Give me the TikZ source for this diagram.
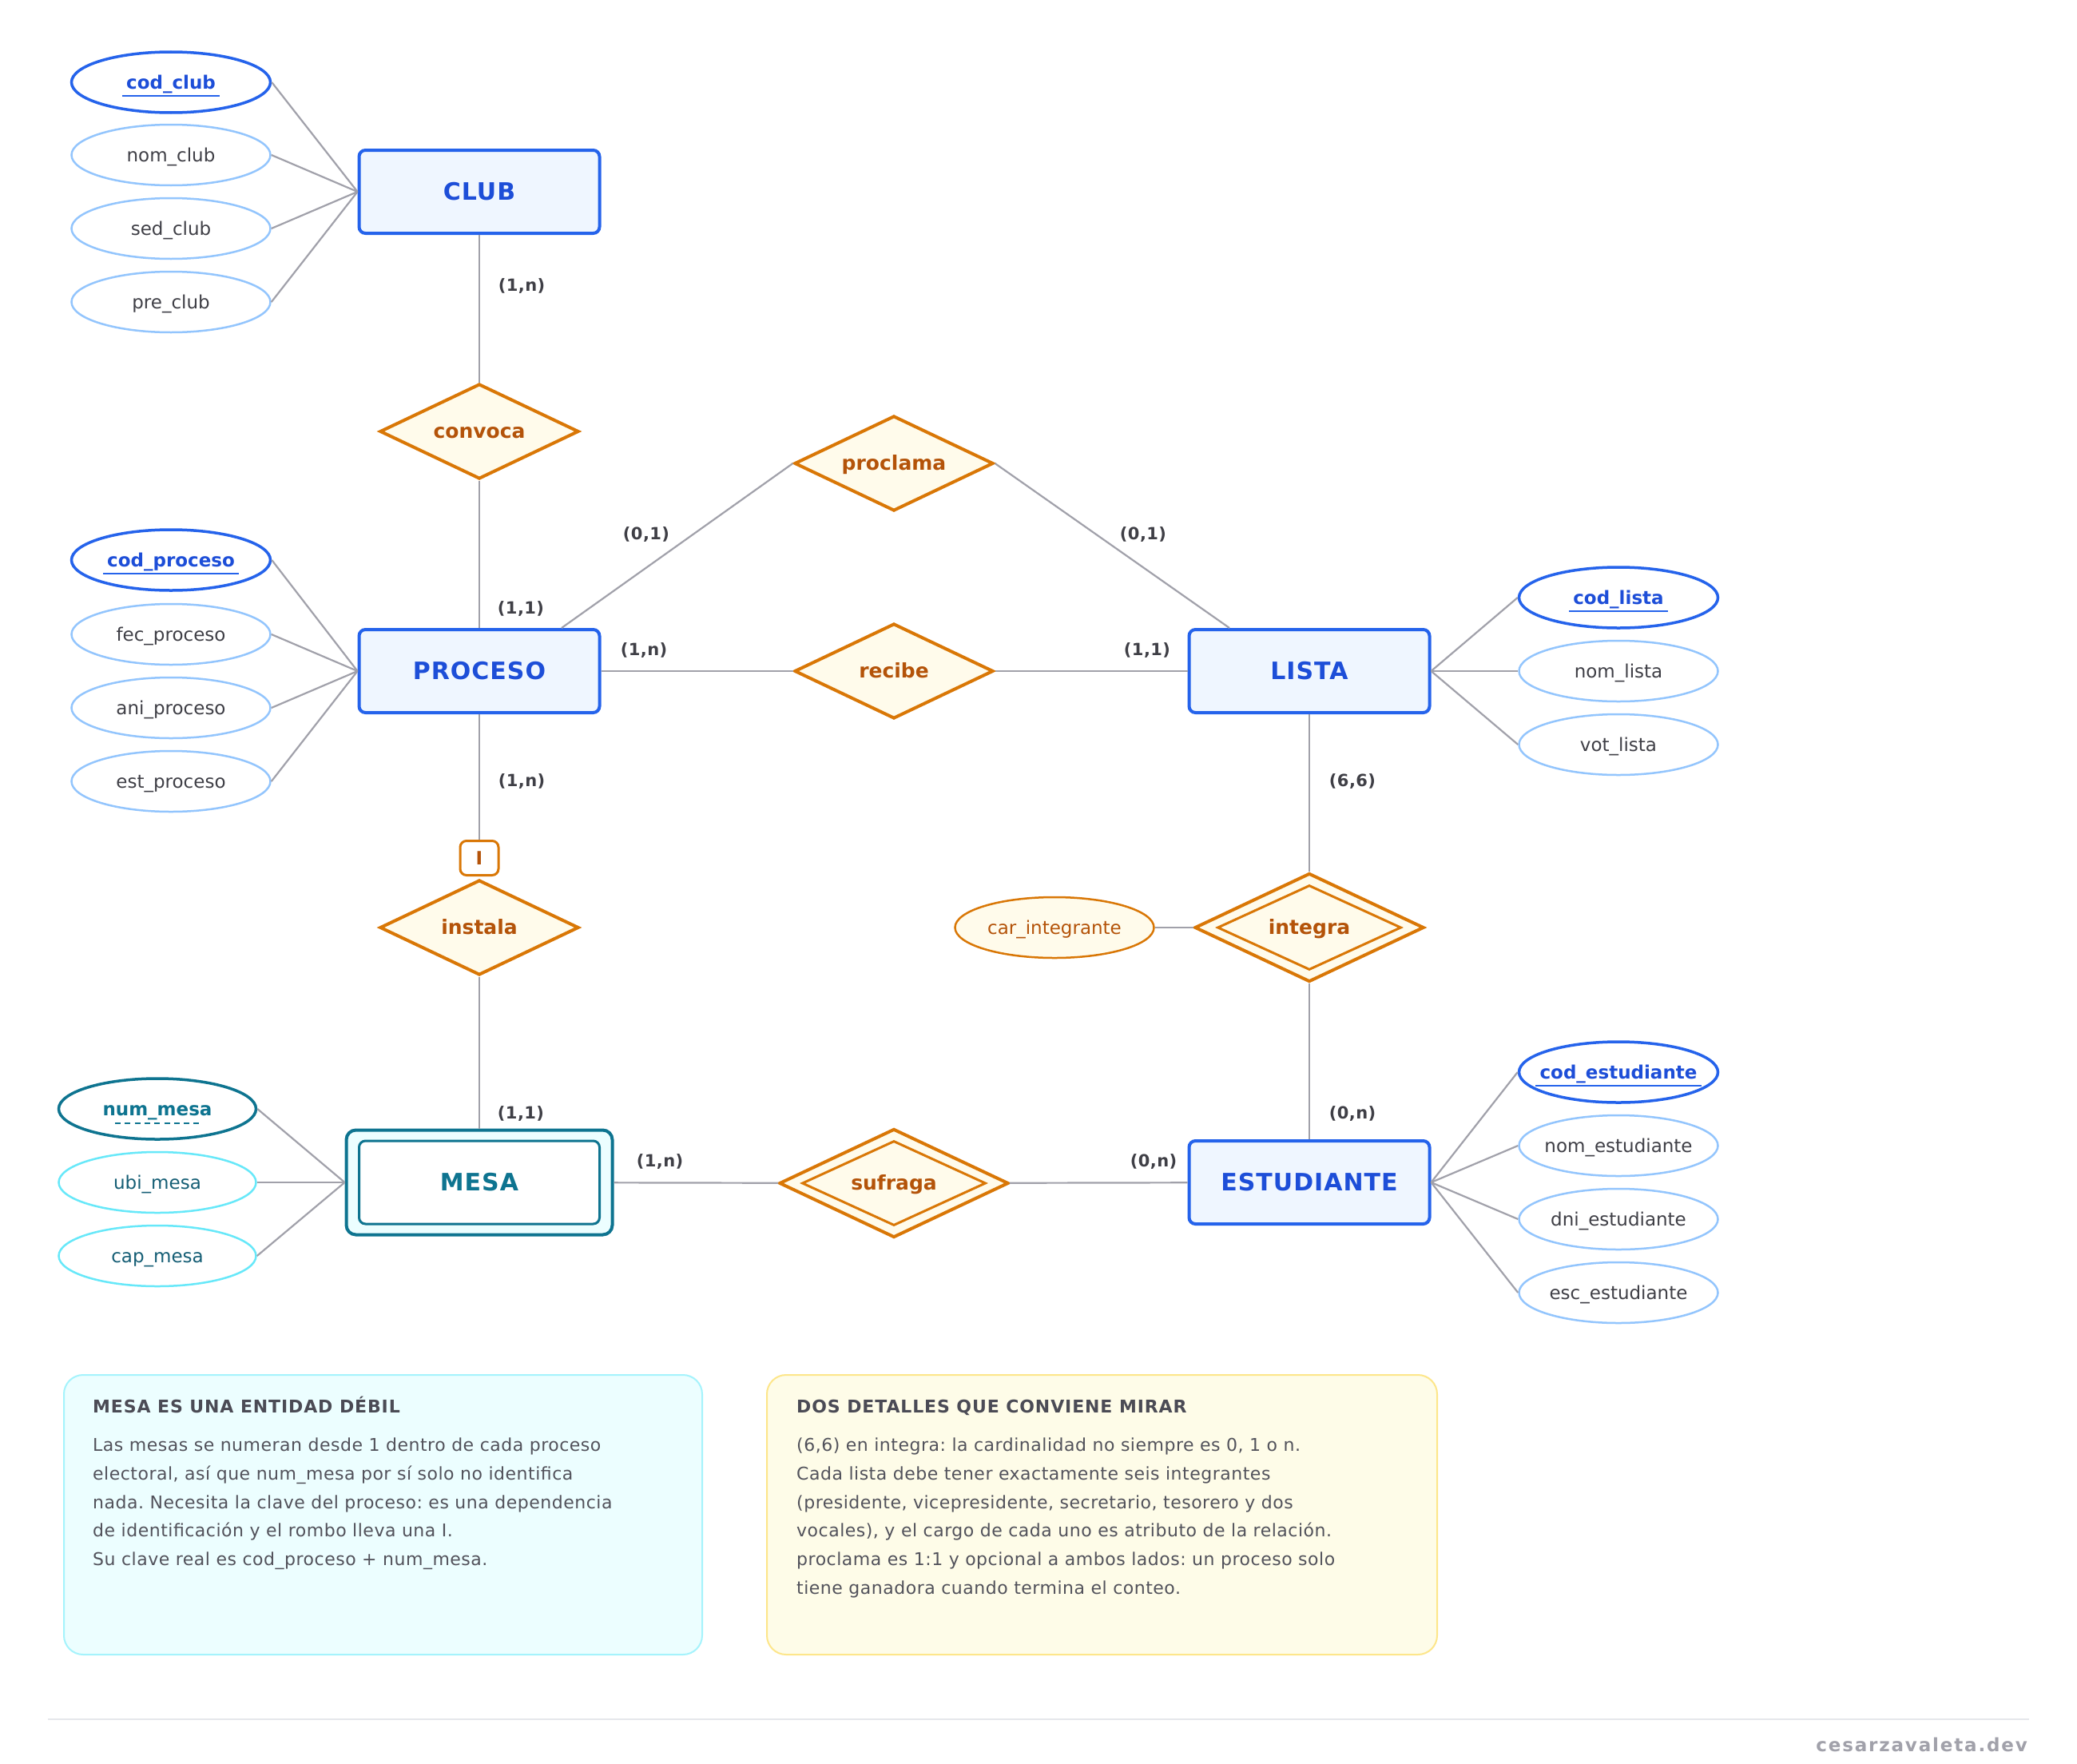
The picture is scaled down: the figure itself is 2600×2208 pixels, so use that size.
\documentclass[tikz,border=0pt]{standalone}
\usepackage{fontspec}
\setmainfont{DejaVu Sans}
\usetikzlibrary{shapes.geometric}
\frenchspacing
\definecolor{entB}{HTML}{2563EB}
\definecolor{entF}{HTML}{EFF6FF}
\definecolor{entT}{HTML}{1D4ED8}
\definecolor{attrB}{HTML}{93C5FD}
\definecolor{attrT}{HTML}{3F3F46}
\definecolor{relB}{HTML}{D97706}
\definecolor{relF}{HTML}{FFFBEB}
\definecolor{relT}{HTML}{B45309}
\definecolor{weakB}{HTML}{0E7490}
\definecolor{weakF}{HTML}{ECFEFF}
\definecolor{wattrB}{HTML}{67E8F9}
\definecolor{wattrT}{HTML}{155E75}
\definecolor{lineC}{HTML}{A1A1AA}
\definecolor{cardC}{HTML}{3F3F46}
\definecolor{noteAF}{HTML}{ECFEFF}
\definecolor{noteAB}{HTML}{A5F3FC}
\definecolor{noteBF}{HTML}{FEFCE8}
\definecolor{noteBB}{HTML}{FDE68A}
\definecolor{noteTitle}{HTML}{4B4B55}
\definecolor{noteBody}{HTML}{52525B}
\definecolor{footL}{HTML}{E5E7EB}
\definecolor{footT}{HTML}{A1A1AA}

\newcommand\ERattr[4]{%
  \node[#1] (#2) at (#3) {};
  \node[#1txt] (#2t) at (#2.center) {#4};}
\newcommand\ERul[1]{%
  \draw[keyul] ([xshift=-5pt,yshift=-9pt]#1t.base west) -- ([xshift=5pt,yshift=-9pt]#1t.base east);}

\tikzset{
  ent/.style={draw=entB, fill=entF, line width=4pt, rounded corners=8pt,
    minimum width=301pt, minimum height=104pt, inner sep=0pt, text=entT,
    font=\fontsize{30}{36}\selectfont\bfseries\addfontfeature{LetterSpace=3.3}, text height=27pt, text depth=6pt},
  weakout/.style={draw=weakB, fill=weakF, line width=4pt, rounded corners=12pt,
    minimum width=333pt, minimum height=131pt, inner sep=0pt},
  weakin/.style={draw=weakB, fill=white, line width=3pt, rounded corners=8pt,
    minimum width=301pt, minimum height=104pt, inner sep=0pt, text=weakB,
    font=\fontsize{30}{36}\selectfont\bfseries\addfontfeature{LetterSpace=3.3}, text height=27pt, text depth=6pt},
  ellbase/.style={ellipse, minimum width=249pt, minimum height=76pt, inner sep=0pt},
  attr/.style={ellbase, draw=attrB, fill=white, line width=2.5pt},
  attrtxt/.style={inner sep=0pt, text=attrT, font=\fontsize{23}{28}\selectfont,
    text height=21pt, text depth=5pt},
  key/.style={ellbase, draw=entB, fill=white, line width=3.5pt},
  keytxt/.style={inner sep=0pt, text=entT, font=\fontsize{23}{28}\selectfont\bfseries,
    text height=21pt, text depth=5pt},
  keyul/.style={draw=entB, line width=2pt},
  wattr/.style={ellbase, minimum width=247pt, draw=wattrB, fill=white, line width=2.5pt},
  wattrtxt/.style={inner sep=0pt, text=wattrT, font=\fontsize{23}{28}\selectfont,
    text height=21pt, text depth=5pt},
  wkey/.style={ellbase, minimum width=247pt, draw=weakB, fill=white, line width=3.5pt},
  wkeytxt/.style={inner sep=0pt, text=weakB, font=\fontsize{23}{28}\selectfont\bfseries,
    text height=21pt, text depth=5pt},
  rattr/.style={ellbase, draw=relB, fill=relF, line width=2.5pt},
  rattrtxt/.style={inner sep=0pt, text=relT, font=\fontsize{23}{28}\selectfont,
    text height=21pt, text depth=5pt},
  rel/.style={diamond, aspect=2, draw=relB, fill=relF, line width=4pt,
    minimum width=249pt, minimum height=119pt, inner sep=0pt, text=relT,
    font=\fontsize{25}{30}\selectfont\bfseries, text height=22.5pt, text depth=5pt},
  relout/.style={diamond, aspect=2, draw=relB, fill=relF, line width=4pt,
    minimum width=287pt, minimum height=136pt, inner sep=0pt},
  relin/.style={diamond, aspect=2, draw=relB, fill=relF, line width=3pt,
    minimum width=230pt, minimum height=106pt, inner sep=0pt, text=relT,
    font=\fontsize{25}{30}\selectfont\bfseries, text height=22.5pt, text depth=5pt},
  ibox/.style={draw=relB, fill=white, line width=3pt, rounded corners=8pt,
    minimum width=48pt, minimum height=43pt, inner sep=0pt, text=relT,
    font=\fontsize{23}{28}\selectfont\bfseries},
  conn/.style={draw=lineC, line width=2.2pt},
  card/.style={inner sep=0pt, text=cardC, font=\fontsize{21}{25}\selectfont\bfseries\addfontfeature{LetterSpace=2},
    text height=19pt, text depth=4.5pt},
  notebox/.style={line width=2pt, rounded corners=24pt, minimum height=350pt, inner sep=0pt},
  ntitle/.style={inner sep=0pt, anchor=base west, text=noteTitle,
    font=\fontsize{22}{26}\selectfont\bfseries\addfontfeature{LetterSpace=4}},
  nbody/.style={inner sep=0pt, anchor=base west, text=noteBody,
    font=\fontsize{22}{26}\selectfont\addfontfeature{LetterSpace=2.3}},
}

\begin{document}
\begin{tikzpicture}[x=1pt,y=-1pt]
\useasboundingbox (0,0) rectangle (2600,2208);
\fill[white] (0,0) rectangle (2600,2208);

% entities
\node[ent] (club) at (600,240) {CLUB};
\node[ent] (proceso) at (600,840) {PROCESO};
\node[ent] (lista) at (1639,840) {LISTA};
\node[ent] (estudiante) at (1639,1480) {ESTUDIANTE};
\node[weakout] (mesa) at (600,1480) {};
\node[weakin] (mesain) at (600,1480) {MESA};

% relationships
\node[rel] (convoca) at (600,540) {convoca};
\node[rel] (proclama) at (1119,580) {proclama};
\node[rel] (recibe) at (1119,840) {recibe};
\node[rel] (instala) at (600,1161) {instala};
\node[relout] (integra) at (1639,1161) {};
\node[relin] (integrain) at (1639,1161) {integra};
\node[relout] (sufraga) at (1119,1481) {};
\node[relin] (sufragain) at (1119,1481) {sufraga};
\node[ibox] (ibox) at (600,1074) {I};

% attributes
\ERattr{key}{cc}{214,103}{cod\_club}
\ERattr{attr}{nc}{214,194}{nom\_club}
\ERattr{attr}{sc}{214,286}{sed\_club}
\ERattr{attr}{pc}{214,378}{pre\_club}

\ERattr{key}{cp}{214,701}{cod\_proceso}
\ERattr{attr}{fp}{214,794}{fec\_proceso}
\ERattr{attr}{ap}{214,886}{ani\_proceso}
\ERattr{attr}{ep}{214,978}{est\_proceso}

\ERattr{key}{cl}{2026,748}{cod\_lista}
\ERattr{attr}{nl}{2026,840}{nom\_lista}
\ERattr{attr}{vl}{2026,932}{vot\_lista}

\ERattr{key}{ce}{2026,1342}{cod\_estudiante}
\ERattr{attr}{ne}{2026,1434}{nom\_estudiante}
\ERattr{attr}{de}{2026,1526}{dni\_estudiante}
\ERattr{attr}{ee}{2026,1618}{esc\_estudiante}

\ERattr{wkey}{nm}{197,1388}{num\_mesa}
\ERattr{wattr}{um}{197,1480}{ubi\_mesa}
\ERattr{wattr}{cm}{197,1572}{cap\_mesa}

\ERattr{rattr}{ci}{1320,1161}{car\_integrante}

\ERul{cc}
\ERul{cp}
\ERul{cl}
\ERul{ce}
\draw[draw=weakB, line width=2pt, dash pattern=on 7pt off 5.3pt]
  ([xshift=-53pt,yshift=-18pt]nm.center) -- ([xshift=53pt,yshift=-18pt]nm.center);

% attribute connectors
\foreach \a in {cc,nc,sc,pc} \draw[conn] (\a.east) -- (club.west);
\foreach \a in {cp,fp,ap,ep} \draw[conn] (\a.east) -- (proceso.west);
\foreach \a in {cl,nl,vl} \draw[conn] (lista.east) -- (\a.west);
\foreach \a in {ce,ne,de,ee} \draw[conn] (estudiante.east) -- (\a.west);
\foreach \a in {nm,um,cm} \draw[conn] (\a.east) -- (mesa.west);
\draw[conn] (ci.east) -- (integra.west);

% relationship connectors
\draw[conn] (club) -- (convoca);
\draw[conn] (convoca) -- (proceso);
\draw[conn] ([xshift=103pt]proceso.north) -- (proclama.west);
\draw[conn] (proclama.east) -- ([xshift=-100pt]lista.north);
\draw[conn] (proceso) -- (recibe);
\draw[conn] (recibe) -- (lista);
\draw[conn] (proceso) -- (ibox);
\draw[conn] (instala) -- (mesa);
\draw[conn] (lista) -- (integra);
\draw[conn] (integra) -- (estudiante);
\draw[conn] (mesa) -- (sufraga);
\draw[conn] (sufraga) -- (estudiante);

% cardinalities
\node[card] (k1) at (653,357) {(1,n)};
\node[card] (k2) at (652,761) {(1,1)};
\node[card] (k3) at (809,668) {(0,1)};
\node[card] (k4) at (1431,668) {(0,1)};
\node[card] (k5) at (806,813) {(1,n)};
\node[card] (k6) at (1436,813) {(1,1)};
\node[card] (k7) at (653,977) {(1,n)};
\node[card] (k8) at (1693,977) {(6,6)};
\node[card] (k9) at (652,1393) {(1,1)};
\node[card] (k10) at (1693,1393) {(0,n)};
\node[card] (k11) at (826,1453) {(1,n)};
\node[card] (k12) at (1444,1453) {(0,n)};

% notes
\node[notebox, draw=noteAB, fill=noteAF, minimum width=799pt] (notea) at (479.5,1896) {};
\node[notebox, draw=noteBB, fill=noteBF, minimum width=839pt] (noteb) at (1379.5,1896) {};
\node[ntitle] (ta) at (116,1768) {MESA ES UNA ENTIDAD DÉBIL};
\node[nbody] (a1) at (116,1816) {Las mesas se numeran desde 1 dentro de cada proceso};
\node[nbody] (a2) at (116,1852) {electoral, así que num\_mesa por sí solo no identifica};
\node[nbody] (a3) at (116,1888) {nada. Necesita la clave del proceso: es una dependencia};
\node[nbody] (a4) at (116,1923) {de identificación y el rombo lleva una I.};
\node[nbody] (a5) at (116,1959) {Su clave real es cod\_proceso + num\_mesa.};
\node[ntitle] (tb) at (997,1768) {DOS DETALLES QUE CONVIENE MIRAR};
\node[nbody] (b1) at (997,1816) {(6,6) en integra: la cardinalidad no siempre es 0, 1 o n.};
\node[nbody] (b2) at (997,1852) {Cada lista debe tener exactamente seis integrantes};
\node[nbody] (b3) at (997,1888) {(presidente, vicepresidente, secretario, tesorero y dos};
\node[nbody] (b4) at (997,1923) {vocales), y el cargo de cada uno es atributo de la relación.};
\node[nbody] (b5) at (997,1959) {proclama es 1:1 y opcional a ambos lados: un proceso solo};
\node[nbody] (b6) at (997,1995) {tiene ganadora cuando termina el conteo.};

% footer
\draw[draw=footL, line width=2pt] (60,2152) -- (2540,2152);
\node[inner sep=0pt, anchor=base east, text=footT,
  font=\fontsize{23}{28}\selectfont\bfseries\addfontfeature{LetterSpace=8}] (foot) at (2538,2192) {cesarzavaleta.dev};
\end{tikzpicture}
\end{document}
